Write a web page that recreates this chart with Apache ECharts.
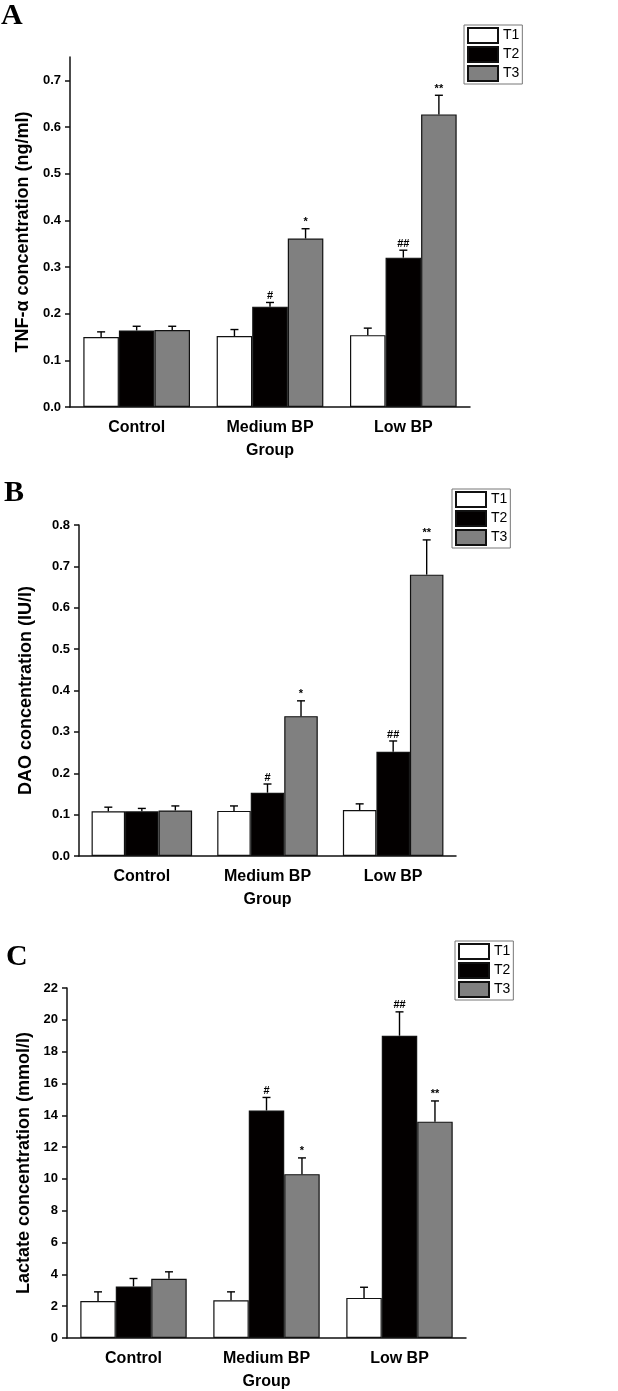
<!DOCTYPE html>
<html>
<head>
<meta charset="utf-8">
<script src="https://cdn.jsdelivr.net/npm/echarts@6/dist/echarts.min.js"></script>
<style>
  html, body { margin: 0; padding: 0; background: #fff; }
  #chart { width: 618px; height: 1391px; }
</style>
</head>
<body>
<div id="chart"></div>
<script>
// 分组与时间点
const groups = ['Control', 'Medium BP', 'Low BP'];
const timeNames = ['T1', 'T2', 'T3'];

// A: TNF-α (ng/ml) 均值与标准差
const tnfT1 = [0.150, 0.152, 0.154];
const tnfT2 = [0.164, 0.215, 0.320];
const tnfT3 = [0.165, 0.361, 0.627];
const tnfT1Sd = [0.011, 0.014, 0.015];
const tnfT2Sd = [0.009, 0.009, 0.016];
const tnfT3Sd = [0.008, 0.021, 0.041];
const tnfTicks = [0, 0.1, 0.2, 0.3, 0.4, 0.5, 0.6, 0.7];

// B: DAO (IU/l)
const daoT1 = [0.108, 0.109, 0.111];
const daoT2 = [0.108, 0.153, 0.252];
const daoT3 = [0.110, 0.338, 0.680];
const daoT1Sd = [0.010, 0.012, 0.015];
const daoT2Sd = [0.007, 0.021, 0.026];
const daoT3Sd = [0.011, 0.037, 0.084];
const daoTicks = [0, 0.1, 0.2, 0.3, 0.4, 0.5, 0.6, 0.7, 0.8];

// C: Lactate (mmol/l)
const lacT1 = [2.33, 2.37, 2.52];
const lacT2 = [3.24, 14.3, 19.0];
const lacT3 = [3.72, 10.3, 13.6];
const lacT1Sd = [0.57, 0.53, 0.67];
const lacT2Sd = [0.50, 0.82, 1.50];
const lacT3Sd = [0.44, 1.02, 1.30];
const lacTicks = [0, 2, 4, 6, 8, 10, 12, 14, 16, 18, 20, 22];

// 显著性标记
const marksT1 = ['', '', ''];
const marksT2 = ['', '#', '##'];
const marksT3 = ['', '*', '**'];

const barColors = ['#ffffff', '#030000', '#808080'];
const font = 'Liberation Sans, Arial, sans-serif';

const chart = echarts.init(document.getElementById('chart'));

// 误差线 + 标记（custom series）
function errorRenderer(slot, marks) {
  return function (params, api) {
    const cat = api.value(0), mean = api.value(1), sd = api.value(2);
    const base = api.coord([cat, mean]);
    const top = api.coord([cat, mean + sd]);
    const bw = api.size([1, 0])[0] * 0.8 / 3;
    const x = base[0] + (slot - 1) * bw;
    const st = { stroke: '#000', lineWidth: 1.4 };
    return {
      type: 'group',
      children: [
        { type: 'line', shape: { x1: x, y1: base[1], x2: x, y2: top[1] }, style: st },
        { type: 'line', shape: { x1: x - 4, y1: top[1], x2: x + 4, y2: top[1] }, style: st },
        { type: 'text', style: { text: marks[params.dataIndex], x: x, y: top[1] - 1,
            align: 'center', verticalAlign: 'bottom', fontSize: 11, fontWeight: 'bold',
            fontFamily: font, fill: '#000' } }
      ]
    };
  };
}

const panels = [
  { means: [tnfT1, tnfT2, tnfT3], sds: [tnfT1Sd, tnfT2Sd, tnfT3Sd], ticks: tnfTicks, max: 0.75,
    name: 'TNF-α concentration (ng/ml)', grid: { left: 70, top: 57, width: 400, height: 350 },
    nameGap: 33, digits: 1, labelGap: 13, groupGap: 36 },
  { means: [daoT1, daoT2, daoT3], sds: [daoT1Sd, daoT2Sd, daoT3Sd], ticks: daoTicks, max: 0.8,
    name: 'DAO concentration (IU/l)', grid: { left: 79, top: 525, width: 377, height: 331 },
    nameGap: 44, digits: 1, labelGap: 13, groupGap: 36 },
  { means: [lacT1, lacT2, lacT3], sds: [lacT1Sd, lacT2Sd, lacT3Sd], ticks: lacTicks, max: 22,
    name: 'Lactate concentration (mmol/l)', grid: { left: 67, top: 988, width: 399, height: 350 },
    nameGap: 29, digits: 0, labelGap: 13, groupGap: 36 }
];
const allMarks = [marksT1, marksT2, marksT3];

const grids = [], xAxes = [], yAxes = [], series = [];
panels.forEach((p, k) => {
  grids.push(p.grid);
  xAxes.push({
    type: 'category', gridIndex: k, data: groups,
    name: 'Group', nameLocation: 'middle', nameGap: p.groupGap,
    nameTextStyle: { fontFamily: font, fontWeight: 'bold', fontSize: 16, color: '#000' },
    axisLine: { lineStyle: { color: '#111', width: 1.5 } },
    axisTick: { alignWithLabel: true, length: 5, lineStyle: { color: '#111', width: 1.5 } },
    axisLabel: { margin: p.labelGap, fontFamily: font, fontWeight: 'bold', fontSize: 16, color: '#000' }
  });
  yAxes.push({
    type: 'value', gridIndex: k, min: 0, max: p.max,
    name: p.name, nameLocation: 'middle', nameGap: p.nameGap,
    nameTextStyle: { fontFamily: font, fontWeight: 'bold', fontSize: 18, color: '#000' },
    splitLine: { show: false },
    axisLine: { show: true, lineStyle: { color: '#111', width: 1.5 } },
    axisTick: { show: true, length: 5, customValues: p.ticks, lineStyle: { color: '#111', width: 1.5 } },
    axisLabel: { margin: 9, customValues: p.ticks, fontFamily: font, fontWeight: 'bold', fontSize: 13, color: '#000',
      formatter: v => v.toFixed(p.digits) }
  });
  timeNames.forEach((t, i) => {
    series.push({
      name: t, type: 'bar', xAxisIndex: k, yAxisIndex: k,
      barGap: '0%', barCategoryGap: '20%',
      itemStyle: { color: barColors[i], borderColor: '#111', borderWidth: 1.2 },
      data: p.means[i]
    });
  });
  timeNames.forEach((t, i) => {
    series.push({
      name: 'err' + k + t, type: 'custom', xAxisIndex: k, yAxisIndex: k, z: 5,
      renderItem: errorRenderer(i, allMarks[i]),
      encode: { x: 0, y: 1 },
      data: p.means[i].map((m, j) => [j, m, p.sds[i][j]])
    });
  });
});

const legendBase = {
  data: timeNames.map(n => ({ name: n, icon: 'rect' })), orient: 'vertical', selectedMode: false,
  itemWidth: 30, itemHeight: 15, itemGap: 2, padding: [2, 3, 2, 3],
  borderColor: '#777', borderWidth: 1,
  textStyle: { fontFamily: font, fontSize: 14, color: '#000', lineHeight: 15 }
};

const letterStyle = { fontFamily: 'Liberation Serif, Times New Roman, serif', fontWeight: 'bold', fontSize: 30, color: '#000' };

chart.setOption({
  animation: false,
  title: [
    { text: 'A', left: 1, top: 1, padding: 0, textStyle: letterStyle },
    { text: 'B', left: 4, top: 478, padding: 0, textStyle: letterStyle },
    { text: 'C', left: 6, top: 942, padding: 0, textStyle: letterStyle }
  ],
  legend: [
    Object.assign({ left: 464, top: 25 }, legendBase),
    Object.assign({ left: 452, top: 489 }, legendBase),
    Object.assign({ left: 455, top: 941 }, legendBase)
  ],
  grid: grids,
  xAxis: xAxes,
  yAxis: yAxes,
  series: series
});

window.addEventListener('resize', () => chart.resize());
</script>
</body>
</html>
